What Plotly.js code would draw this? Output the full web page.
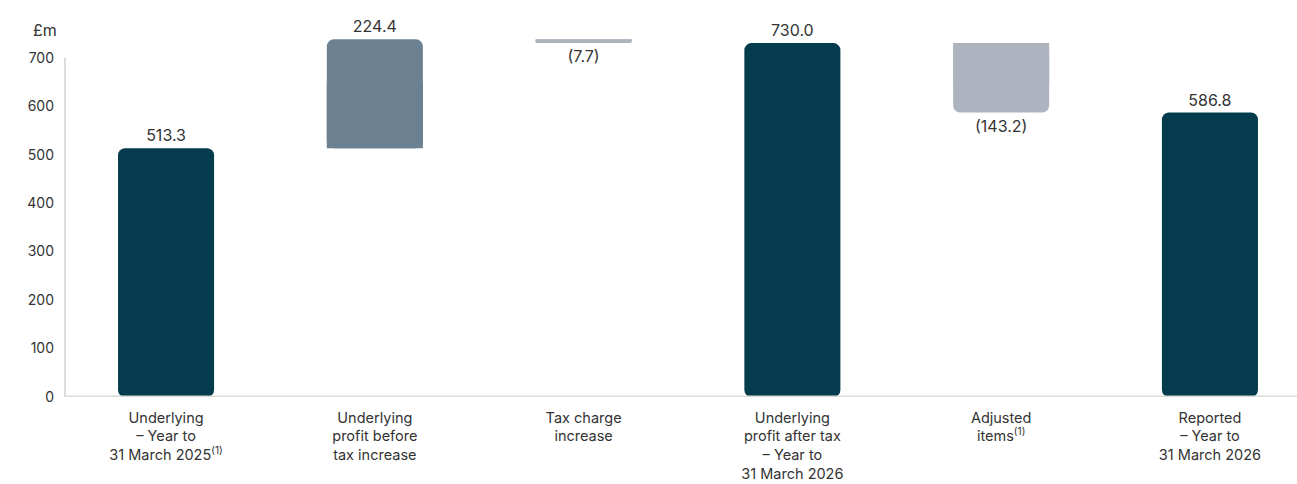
<!DOCTYPE html>
<html><head><meta charset="utf-8">
<script src="https://cdn.plot.ly/plotly-3.0.1.min.js"></script>
<style>body{margin:0;background:#fff}#chart{width:1297px;height:484px}</style>
</head><body><div id="chart"></div>
<script>
const categories = [
  "Underlying<br>– Year to<br>31 March 2025<sup>(1)</sup>",
  "Underlying<br>profit before<br>tax increase",
  "Tax charge<br>increase",
  "Underlying<br>profit after tax<br>– Year to<br>31 March 2026",
  "Adjusted<br>items<sup>(1)</sup>",
  "Reported<br>– Year to<br>31 March 2026"
];
const values = [513.3, 224.4, -7.7, 730.0, -143.2, 586.8];
const kinds = ["total", "delta", "delta", "total", "delta", "total"];
const labels = ["513.3", "224.4", "(7.7)", "730.0", "(143.2)", "586.8"];
const yTicks = [0, 100, 200, 300, 400, 500, 600, 700];

const FONT = "Inter, 'Open Sans', sans-serif";
const colTotal = "#043c4e", colUp = "#6b8191", colDown = "#adb4bf";
let running = 0;
const bases = [], ys = [], colors = [];
const px = [], pbase = [], py = [], pcol = [];
values.forEach((v, i) => {
  if (kinds[i] === "total") { bases.push(0); ys.push(v); running = v; colors.push(colTotal); }
  else {
    bases.push(running); ys.push(v);
    const c = v >= 0 ? colUp : colDown;
    colors.push(c);
    // square-cornered patch over the starting end of each floating bar
    px.push(i); pbase.push(running); py.push(v * 0.6); pcol.push(c);
    running += v;
  }
});
const xs = categories.map((c, i) => i);

const trace = {
  type: "bar", x: xs, y: ys, base: bases,
  marker: { color: colors, cornerradius: 7, line: { width: 0 } },
  width: 0.46,
  text: labels, textposition: "outside", cliponaxis: false,
  constraintext: "none",
  textfont: { family: FONT, size: 16, color: "#333333" },
  hoverinfo: "skip"
};
const patch = {
  type: "bar", x: px, y: py, base: pbase,
  marker: { color: pcol, cornerradius: 0, line: { width: 0 } },
  width: 0.46, hoverinfo: "skip"
};

const layout = {
  width: 1297, height: 484,
  margin: { l: 65, r: 0, t: 30, b: 87 },
  barmode: "overlay",
  paper_bgcolor: "#ffffff", plot_bgcolor: "#ffffff",
  showlegend: false,
  font: { family: FONT, size: 15, color: "#333333" },
  xaxis: {
    range: [-0.484, 5.417], tickmode: "array", tickvals: xs, ticktext: categories,
    showgrid: false, zeroline: false, showline: false, ticks: "", ticklabelstandoff: 10,
    tickfont: { family: FONT, size: 14.5, color: "#333333" }, fixedrange: true
  },
  yaxis: {
    range: [0, 757], tickmode: "array", tickvals: yTicks, ticktext: yTicks.map(String),
    showgrid: false, zeroline: false, showline: false, ticks: "", ticklabelstandoff: 10,
    tickfont: { family: FONT, size: 14, color: "#333333" }, fixedrange: true
  },
  shapes: [
    { type: "line", xref: "paper", yref: "y", x0: 0, x1: 0, y0: 0, y1: 700,
      line: { color: "#dcdcd8", width: 2 }, layer: "below" },
    { type: "line", xref: "paper", yref: "y", x0: 0, x1: 1, y0: 0, y1: 0,
      line: { color: "#dcdcd8", width: 3 }, layer: "above" }
  ],
  annotations: [
    { text: "£m", xref: "paper", yref: "paper", x: 0, y: 1, xanchor: "right", yanchor: "bottom",
      xshift: -6, yshift: -12, showarrow: false, font: { family: FONT, size: 16, color: "#333333" } }
  ]
};
Plotly.newPlot("chart", [trace, patch], layout, { displayModeBar: false, staticPlot: true });
</script></body></html>
